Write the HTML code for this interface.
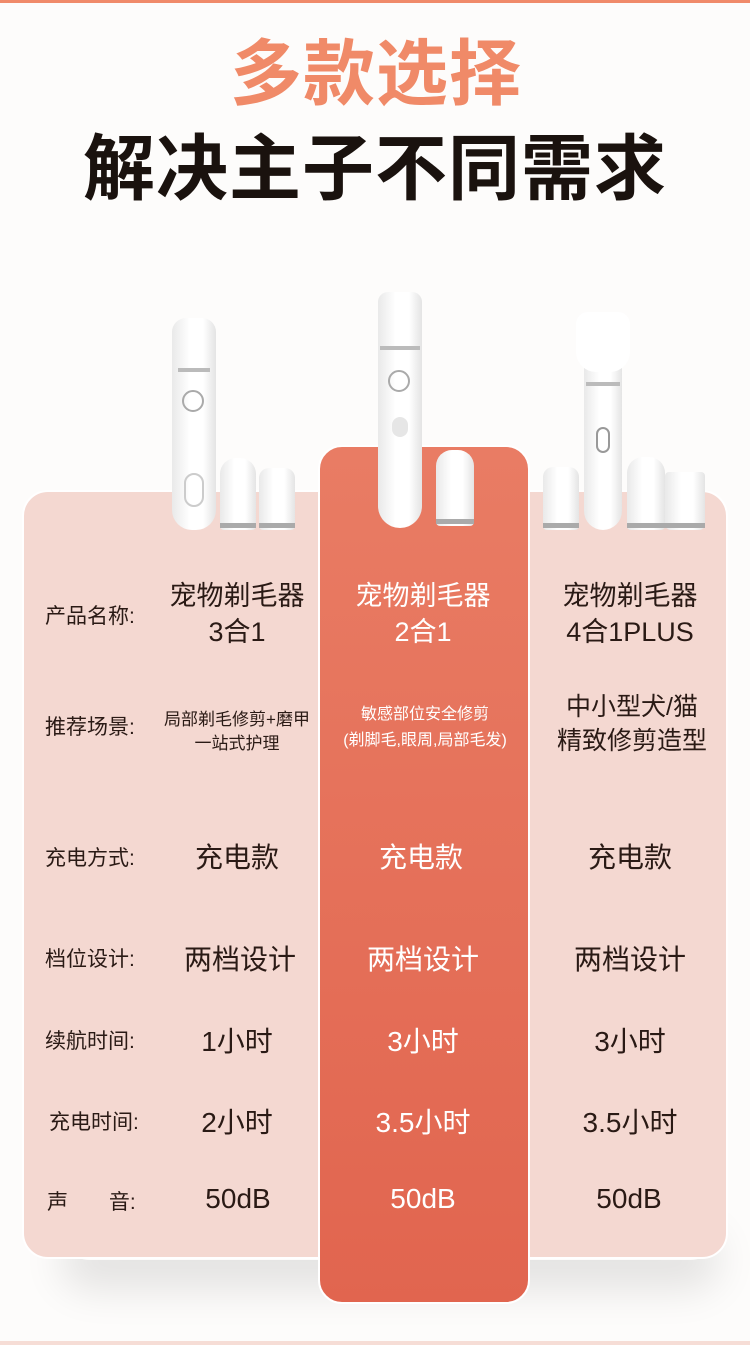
<!DOCTYPE html>
<html><head><meta charset="utf-8"><style>
*{margin:0;padding:0;box-sizing:border-box}
body{width:750px;height:1345px;position:relative;overflow:hidden;background:#fdfcfb;font-family:"Liberation Sans","Noto Sans CJK SC",sans-serif;color:#2a1a15}
.a{position:absolute}
.t{position:absolute;text-align:center;white-space:nowrap;transform:translateX(-50%)}
.lab{position:absolute;left:45px;font-size:21px;white-space:nowrap}
.dev{position:absolute;background:linear-gradient(90deg,#e9e9e9,#fff 40%,#fff 70%,#e4e4e4);border-radius:14px 14px 20px 20px}
.ring{position:absolute;height:5px;background:#aaa;left:0;right:0}
</style></head><body>
<div class="a" style="left:0;top:0;width:750px;height:3px;background:#f08a6a"></div>
<div class="a" style="left:0;top:1341px;width:750px;height:4px;background:#f6ddd6"></div>
<div class="t" style="left:376px;top:30px;font-size:72px;line-height:90px;font-weight:bold;color:#f08a68;letter-spacing:1px">多款选择</div>
<div class="t" style="left:375px;top:125px;font-size:72px;line-height:90px;font-weight:bold;color:#1a120e;letter-spacing:1px">解决主子不同需求</div>

<div class="a" style="left:60px;top:1200px;width:660px;height:60px;box-shadow:0 30px 40px rgba(0,0,0,0.10);border-radius:30px"></div>
<div class="a" style="left:22px;top:490px;width:706px;height:769px;background:#f4d8d1;border-radius:26px;border:2px solid #fff"></div>
<div class="a" style="left:318px;top:445px;width:212px;height:859px;background:linear-gradient(#e97c64,#e1654f);border-radius:24px;border:2px solid #fff"></div>

<div class="dev" style="left:172px;top:318px;width:44px;height:212px"><div class="a" style="left:6px;top:50px;width:32px;height:4px;background:#bbb"></div><div class="a" style="left:10px;top:72px;width:22px;height:22px;border-radius:50%;border:2px solid #aaa"></div><div class="a" style="left:12px;top:155px;width:20px;height:34px;border-radius:10px;border:2px solid #ccc"></div></div>
<div class="dev" style="left:220px;top:458px;width:36px;height:72px;border-radius:16px 16px 4px 4px"><div class="ring" style="bottom:2px"></div></div>
<div class="dev" style="left:259px;top:468px;width:36px;height:62px;border-radius:10px 10px 4px 4px"><div class="ring" style="bottom:2px"></div></div>
<div class="dev" style="left:378px;top:292px;width:44px;height:236px;border-radius:10px 10px 22px 22px"><div class="a" style="left:2px;top:54px;width:40px;height:4px;background:#bbb"></div><div class="a" style="left:10px;top:78px;width:22px;height:22px;border-radius:50%;border:2px solid #aaa"></div><div class="a" style="left:14px;top:125px;width:16px;height:20px;border-radius:8px;background:#e6e6e6"></div></div>
<div class="dev" style="left:436px;top:450px;width:38px;height:76px;border-radius:16px 16px 4px 4px"><div class="ring" style="bottom:2px"></div></div>
<div class="dev" style="left:584px;top:312px;width:38px;height:218px;border-radius:10px 10px 20px 20px"><div class="a" style="left:-8px;top:0;width:54px;height:60px;background:#fff;border-radius:12px 12px 20px 20px"></div><div class="a" style="left:2px;top:70px;width:34px;height:4px;background:#bbb"></div><div class="a" style="left:12px;top:115px;width:14px;height:26px;border-radius:7px;border:2px solid #999"></div></div>
<div class="dev" style="left:543px;top:467px;width:36px;height:63px;border-radius:10px 10px 4px 4px"><div class="ring" style="bottom:2px"></div></div>
<div class="dev" style="left:627px;top:457px;width:38px;height:73px;border-radius:16px 16px 4px 4px"><div class="ring" style="bottom:2px"></div></div>
<div class="dev" style="left:665px;top:472px;width:40px;height:58px;border-radius:4px 4px 6px 6px"><div class="ring" style="bottom:2px"></div></div>

<div class="lab" style="top:600px">产品名称:</div>
<div class="lab" style="top:711px">推荐场景:</div>
<div class="lab" style="top:842px">充电方式:</div>
<div class="lab" style="top:943px">档位设计:</div>
<div class="lab" style="top:1025px">续航时间:</div>
<div class="lab" style="top:1106px;left:49px">充电时间:</div>
<div class="lab" style="top:1186px;left:47px">声&nbsp;&nbsp;&nbsp;&nbsp;&nbsp;&nbsp;&nbsp;音:</div>

<div class="t" style="left:237px;top:578px;font-size:27px;line-height:36px">宠物剃毛器<br>3合1</div>
<div class="t" style="left:423px;top:578px;font-size:27px;line-height:36px;color:#fff">宠物剃毛器<br>2合1</div>
<div class="t" style="left:630px;top:578px;font-size:27px;line-height:36px">宠物剃毛器<br>4合1PLUS</div>

<div class="t" style="left:237px;top:708px;font-size:17px;line-height:24px">局部剃毛修剪+磨甲<br>一站式护理</div>
<div class="t" style="left:425px;top:702px;font-size:16px;line-height:26px;color:#fff">敏感部位安全修剪<br>(剃脚毛,眼周,局部毛发)</div>
<div class="t" style="left:632px;top:690px;font-size:25px;line-height:34px">中小型犬/猫<br>精致修剪造型</div>

<div class="t" style="left:237px;top:836px;font-size:28px">充电款</div>
<div class="t" style="left:421px;top:836px;font-size:28px;color:#fff">充电款</div>
<div class="t" style="left:630px;top:836px;font-size:28px">充电款</div>
<div class="t" style="left:240px;top:938px;font-size:28px">两档设计</div>
<div class="t" style="left:423px;top:938px;font-size:28px;color:#fff">两档设计</div>
<div class="t" style="left:630px;top:938px;font-size:28px">两档设计</div>
<div class="t" style="left:237px;top:1020px;font-size:28px">1小时</div>
<div class="t" style="left:423px;top:1020px;font-size:28px;color:#fff">3小时</div>
<div class="t" style="left:630px;top:1020px;font-size:28px">3小时</div>
<div class="t" style="left:237px;top:1101px;font-size:28px">2小时</div>
<div class="t" style="left:423px;top:1101px;font-size:28px;color:#fff">3.5小时</div>
<div class="t" style="left:630px;top:1101px;font-size:28px">3.5小时</div>
<div class="t" style="left:238px;top:1183px;font-size:28px">50dB</div>
<div class="t" style="left:423px;top:1183px;font-size:28px;color:#fff">50dB</div>
<div class="t" style="left:629px;top:1183px;font-size:28px">50dB</div>
</body></html>
